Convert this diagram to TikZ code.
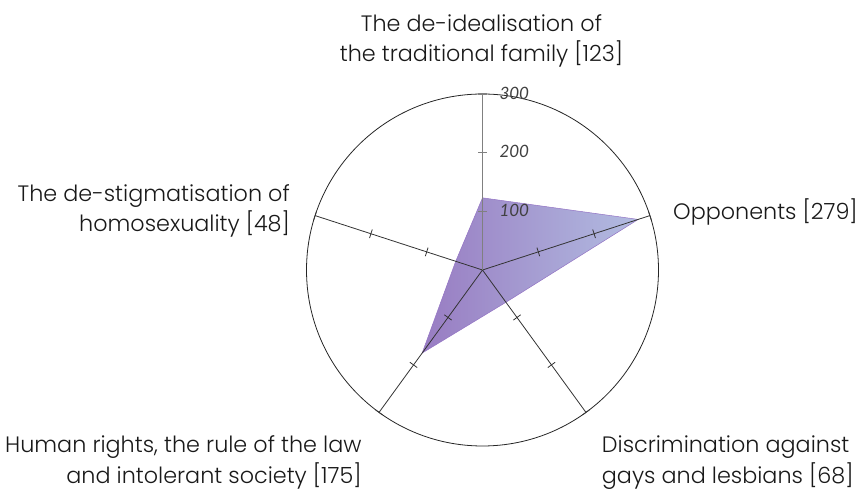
\documentclass[tikz,border=0pt]{standalone}
\usepackage{fontspec}
\setmainfont{Poppins Light}
\newfontfamily\axisfont{Lato}
\usetikzlibrary{calc}
\definecolor{fillL}{HTML}{987CC2}
\definecolor{fillR}{HTML}{B2BCE1}
\definecolor{edgeC}{HTML}{9373C4}
\begin{document}
\begin{tikzpicture}[x=1pt,y=1pt,
  lbl/.style={font=\fontsize{22.3}{30.5}\selectfont, text=black!90, inner sep=0pt},
  axnum/.style={font=\axisfont\itshape\fontsize{17}{17}\selectfont, text=black!75, inner sep=0pt, anchor=base west},
  spoke/.style={draw=black!80, line width=0.8pt},
  topspoke/.style={draw=black!50, line width=1.1pt},
  tickmark/.style={draw=black!80, line width=0.8pt},
  rim/.style={draw=black!85, line width=0.8pt},
  area/.style={left color=fillL, right color=fillR, draw=edgeC, line width=0.5pt}]
\useasboundingbox (0,0) rectangle (863,490);
\coordinate (c) at (482.5,220);
% data polygon
\coordinate (p1) at ($(c)+(90:72.16)$);
\coordinate (p2) at ($(c)+(18:163.68)$);
\coordinate (p3) at ($(c)+(-54:39.89)$);
\coordinate (p4) at ($(c)+(-126:102.67)$);
\coordinate (p5) at ($(c)+(162:28.16)$);
\shade[area] (p1) -- (p2) -- (p3) -- (p4) -- (p5) -- cycle;
% rim
\draw[rim] (c) circle (176);
% spokes
\foreach \a/\n in {18/e2,-54/e3,-126/e4,162/e5}{
  \draw[spoke] (c) -- ($(c)+(\a:176)$) coordinate (\n);
  \foreach \r in {58.67,117.33,176}{
    \draw[tickmark] ($(c)+(\a:\r)+(\a+90:4.5)$) -- ($(c)+(\a:\r)+(\a-90:4.5)$);
  }
}
\draw[topspoke] (c) -- ($(c)+(90:176)$) coordinate (e1);
\foreach \r in {58.67,117.33,176}{
  \draw[topspoke] ($(c)+(90:\r)+(180:4.5)$) -- ($(c)+(90:\r)+(0:4.5)$);
}
% axis numbers
\node[axnum] (n300) at (499.3,390) {300};
\node[axnum] (n200) at (499.3,332) {200};
\node[axnum] (n100) at (499.3,273.3) {100};
% category labels (base anchor = baseline of the last line)
\node[lbl, anchor=base, align=center] (t1) at (481.5,428) {The de-idealisation of\\the traditional family [123]};
\node[lbl, anchor=base west] (t2) at (673,270) {Opponents [279]};
\node[lbl, anchor=base west, align=left] (t3) at (601.7,6.5) {Discrimination against\\gays and lesbians [68]};
\node[lbl, anchor=base east, align=right] (t4) at (361.7,6.5) {Human rights, the rule of the law\\and intolerant society [175]};
\node[lbl, anchor=base east, align=right] (t5) at (290,258.3) {The de-stigmatisation of\\homosexuality [48]};
\end{tikzpicture}
\end{document}
